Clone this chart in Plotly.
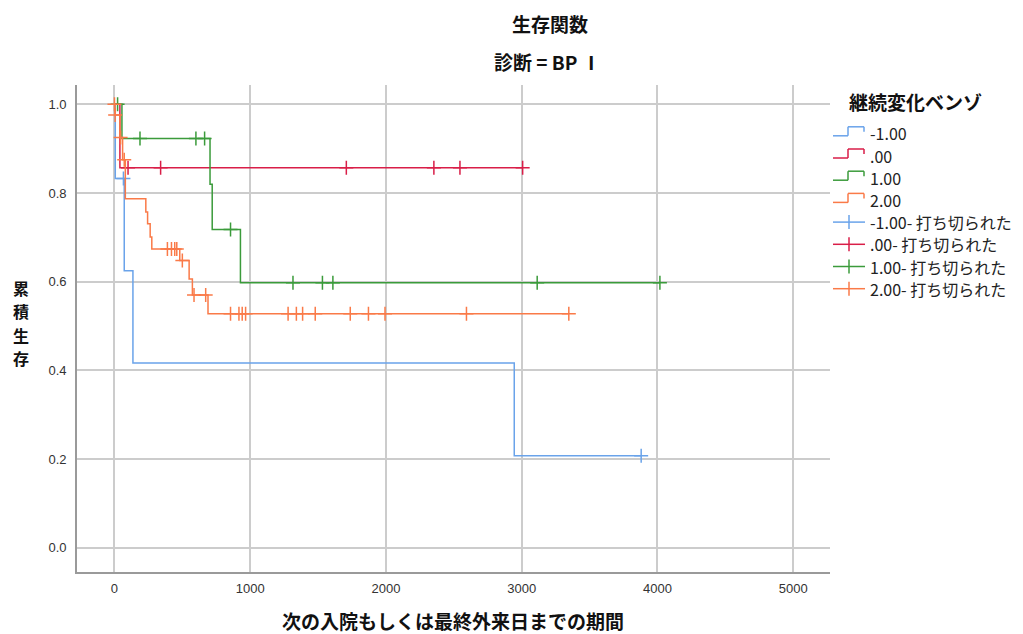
import plotly.graph_objects as go

# Kaplan-Meier step curves: event times (days) and survival after each step
groups = ["-1.00", ".00", "1.00", "2.00"]

blue_times = [0, 6, 72, 136, 2945]
blue_surv = [1.0, 0.833, 0.625, 0.417, 0.208]
blue_censor = [66, 3880]

red_times = [0, 40]
red_surv = [1.0, 0.857]
red_censor = [100, 340, 1708, 2353, 2545, 3007]

green_times = [0, 55, 704, 720, 928]
green_surv = [1.0, 0.923, 0.820, 0.718, 0.598]
green_censor = [23, 188, 600, 664, 855, 1315, 1532, 1609, 3114, 4018]

orange_times = [0, 3, 40, 60, 80, 231, 244, 263, 275, 481, 550, 574, 689]
orange_surv = [1.0, 0.976, 0.925, 0.875, 0.787, 0.757, 0.731, 0.701,
               0.674, 0.648, 0.606, 0.570, 0.528]
orange_censor = [0, 5, 45, 72, 390, 420, 444, 459, 500, 586, 672, 855, 917,
                 941, 966, 1279, 1340, 1386, 1479, 1737, 1871, 1993, 2593, 3347]

x_ticks = [0, 1000, 2000, 3000, 4000, 5000]
y_ticks = [0.0, 0.2, 0.4, 0.6, 0.8, 1.0]

colors = ["#6aa3ea", "#d91e48", "#3b9b3b", "#fa7a48"]
series = [
    (blue_times, blue_surv, blue_censor),
    (red_times, red_surv, red_censor),
    (green_times, green_surv, green_censor),
    (orange_times, orange_surv, orange_censor),
]

W, H = 1023, 634
L, R, T, B = 77, 830, 85, 572  # plot area in pixels


def px(x):
    return (x - L) / (R - L)


def py(y):
    return (B - y) / (B - T)


def surv_at(times, surv, t):
    s = surv[0]
    for ti, si in zip(times, surv):
        if ti <= t:
            s = si
    return s


fig = go.Figure()

for (times, surv, cens), col in zip(series, colors):
    end = max(cens[-1], times[-1])
    fig.add_trace(go.Scatter(
        x=list(times) + [end], y=list(surv) + [surv[-1]],
        mode="lines", line=dict(color=col, width=1.5, shape="hv"),
        showlegend=False, hoverinfo="skip"))
    fig.add_trace(go.Scatter(
        x=cens, y=[surv_at(times, surv, c) for c in cens],
        mode="markers",
        marker=dict(symbol="cross-thin", size=10, line=dict(color=col, width=1.5)),
        showlegend=False, hoverinfo="skip"))

tick_font = dict(family="Liberation Sans Narrow, Liberation Sans, Arial", size=13, color="#333333")
bold_font = dict(family="Noto Sans CJK JP", size=19, color="#111111")

fig.update_layout(
    width=W, height=H,
    margin=dict(l=L, r=W - R, t=T, b=H - B, pad=0),
    plot_bgcolor="white", paper_bgcolor="white",
    xaxis=dict(range=[-276, 5271], tickvals=x_ticks, ticktext=[str(v) for v in x_ticks],
               showgrid=True, gridcolor="#cccccc", gridwidth=1.6, zeroline=False,
               showline=True, linecolor="#9a9a9a", linewidth=1.6,
               ticks="", tickfont=tick_font, ticklabelstandoff=4),
    yaxis=dict(range=[-0.0543, 1.0435], tickvals=y_ticks, tickformat=".1f",
               showgrid=True, gridcolor="#cccccc", gridwidth=1.6, zeroline=False,
               showline=True, linecolor="#9a9a9a", linewidth=1.6,
               ticks="", tickfont=tick_font, ticklabelstandoff=6),
)

ann = []
# Titles
ann.append(dict(text="<b>生存関数</b>", x=px(550), y=py(23), xref="paper", yref="paper",
                xanchor="center", yanchor="middle", showarrow=False, font=bold_font))
ann.append(dict(text="<b>診断 = BP Ⅰ</b>", x=px(547), y=py(62), xref="paper", yref="paper",
                xanchor="center", yanchor="middle", showarrow=False, font=bold_font))
ann.append(dict(text="<b>次の入院もしくは最終外来日までの期間</b>", x=px(453), y=py(620),
                xref="paper", yref="paper", xanchor="center", yanchor="middle",
                showarrow=False, font=bold_font))
# Vertical axis title, one character per annotation, stacked top to bottom
for i, ch in enumerate("累積生存"):
    ann.append(dict(text=f"<b>{ch}</b>", x=px(21), y=py(288 + 23.3 * i),
                    xref="paper", yref="paper", xanchor="center", yanchor="middle",
                    showarrow=False,
                    font=dict(family="Noto Sans CJK JP", size=16, color="#111111")))

# Legend
ann.append(dict(text="<b>継続変化ベンゾ</b>", x=px(847), y=py(101), xref="paper", yref="paper",
                xanchor="left", yanchor="middle", showarrow=False, font=bold_font))
shapes = []
labels = groups + [g + "- 打ち切られた" for g in groups]
for i, lab in enumerate(labels):
    c = 133.3 + 22.2 * i
    col = colors[i % 4]
    if i < 4:
        seg = [(833, c + 2.5, 848, c + 2.5), (848, c + 2.5, 848, c - 6.5),
               (848, c - 6.5, 864, c - 6.5), (864, c - 6.5, 864, c - 1.5)]
    else:
        seg = [(833, c, 865, c), (849, c - 7, 849, c + 7)]
    for x0, y0, x1, y1 in seg:
        shapes.append(dict(type="line", xref="paper", yref="paper",
                           x0=px(x0), y0=py(y0), x1=px(x1), y1=py(y1),
                           line=dict(color=col, width=1.5)))
    ann.append(dict(text=lab, x=px(868), y=py(c), xref="paper", yref="paper",
                    xanchor="left", yanchor="middle", showarrow=False,
                    font=dict(family="Noto Sans CJK JP, Liberation Sans", size=16, color="#222222")))

fig.update_layout(annotations=ann, shapes=shapes)
fig.write_html("out.html")
